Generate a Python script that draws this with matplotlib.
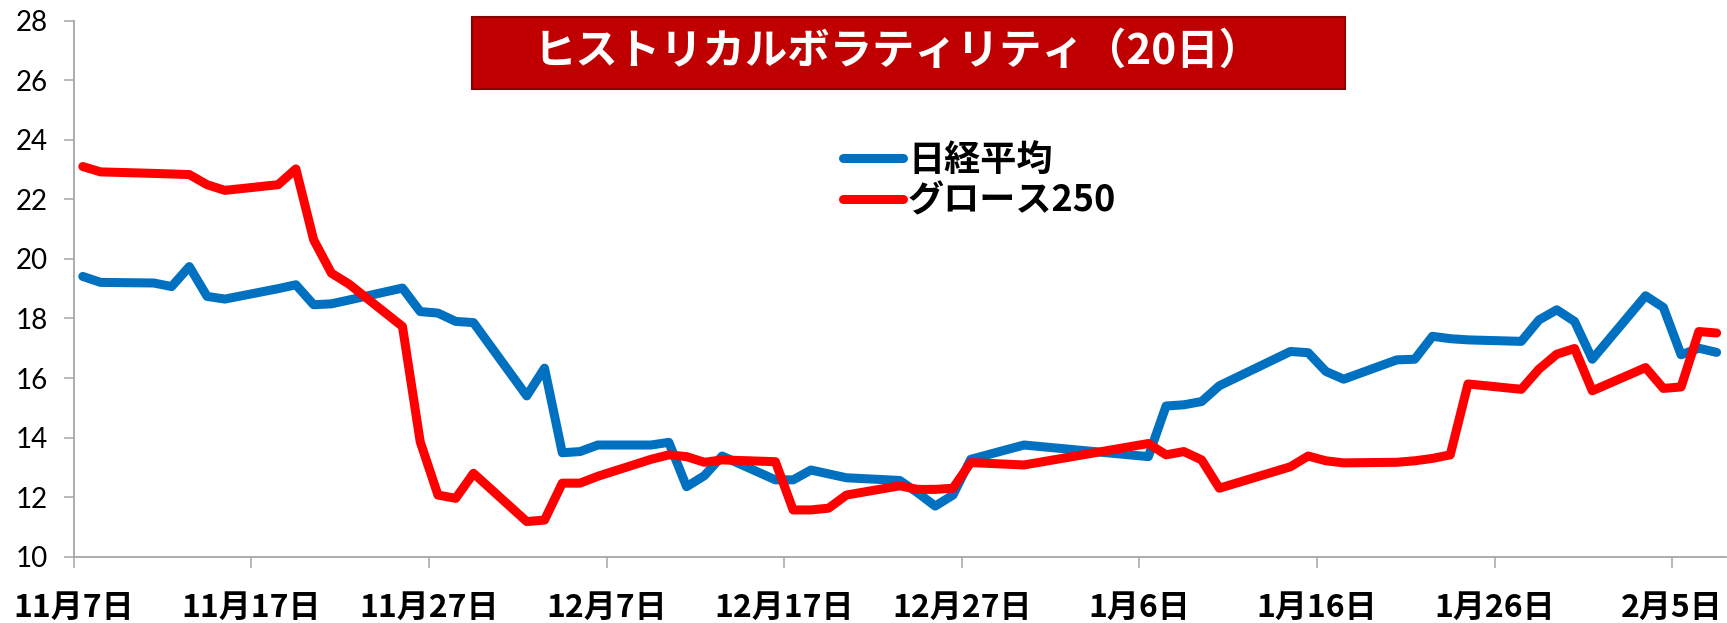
import matplotlib
matplotlib.use("Agg")
import matplotlib.pyplot as plt
import matplotlib.dates as mdates
from matplotlib.patches import Rectangle
import pandas as pd

plt.rcParams['font.family'] = ['Noto Sans CJK JP', 'DejaVu Sans']

# ---- data ----
dates = [
    "2024-11-07", "2024-11-08", "2024-11-11", "2024-11-12", "2024-11-13", "2024-11-14", "2024-11-15",
    "2024-11-18", "2024-11-19", "2024-11-20", "2024-11-21", "2024-11-22",
    "2024-11-25", "2024-11-26", "2024-11-27", "2024-11-28", "2024-11-29",
    "2024-12-02", "2024-12-03", "2024-12-04", "2024-12-05", "2024-12-06",
    "2024-12-09", "2024-12-10", "2024-12-11", "2024-12-12", "2024-12-13",
    "2024-12-16", "2024-12-17", "2024-12-18", "2024-12-19", "2024-12-20",
    "2024-12-23", "2024-12-24", "2024-12-25", "2024-12-26", "2024-12-27",
    "2024-12-30",
    "2025-01-06", "2025-01-07", "2025-01-08", "2025-01-09", "2025-01-10",
    "2025-01-14", "2025-01-15", "2025-01-16", "2025-01-17",
    "2025-01-20", "2025-01-21", "2025-01-22", "2025-01-23", "2025-01-24",
    "2025-01-27", "2025-01-28", "2025-01-29", "2025-01-30", "2025-01-31",
    "2025-02-03", "2025-02-04", "2025-02-05", "2025-02-06", "2025-02-07",
]

nikkei = [
    19.41, 19.21, 19.19, 19.07, 19.74, 18.74, 18.65,
    19.00, 19.13, 18.46, 18.49, 18.62,
    19.02, 18.23, 18.18, 17.90, 17.86,
    15.40, 16.33, 13.49, 13.53, 13.75,
    13.75, 13.84, 12.35, 12.72, 13.38,
    12.58, 12.58, 12.91, 12.78, 12.65,
    12.56, 12.15, 11.70, 12.07, 13.27,
    13.75,
    13.36, 15.06, 15.10, 15.21, 15.74,
    16.89, 16.85, 16.22, 15.96,
    16.61, 16.63, 17.40, 17.32, 17.28,
    17.23, 17.95, 18.29, 17.90, 16.63,
    18.76, 18.37, 16.78, 17.00, 16.86,
]

growth250 = [
    23.10, 22.92, 22.87, 22.85, 22.83, 22.49, 22.30,
    22.49, 23.02, 20.64, 19.52, 19.15,
    17.73, 13.86, 12.07, 11.96, 12.80,
    11.18, 11.23, 12.47, 12.47, 12.70,
    13.27, 13.42, 13.36, 13.17, 13.25,
    13.19, 11.57, 11.57, 11.63, 12.07,
    12.38, 12.26, 12.26, 12.30, 13.16,
    13.08,
    13.80, 13.42, 13.53, 13.25, 12.30,
    13.02, 13.38, 13.22, 13.15,
    13.17, 13.22, 13.30, 13.42, 15.80,
    15.62, 16.30, 16.80, 16.99, 15.57,
    16.35, 15.65, 15.70, 17.56, 17.51,
]

series_names = ["日経平均", "グロース250"]
series_colors = ["#0070C0", "#FF0000"]
title_text = "ヒストリカルボラティリティ（20日）"
x_start, x_end = "2024-11-07", "2025-02-08"
yticks = [10, 12, 14, 16, 18, 20, 22, 24, 26, 28]

# ---- figure ----
W, H = 1727, 623
fig = plt.figure(figsize=(W / 100, H / 100), dpi=100)
ax = fig.add_axes([73.9 / W, (H - 556.7) / H, (1725.5 - 73.9) / W, (556.7 - 20.6) / H])

x = pd.to_datetime(dates) + pd.Timedelta(hours=12)
for vals, name, col in zip([nikkei, growth250], series_names, series_colors):
    ax.plot(x, vals, color=col, lw=6.5, label=name,
            solid_capstyle='round', solid_joinstyle='round')

ax.set_xlim(pd.Timestamp(x_start), pd.Timestamp(x_end))
ax.set_ylim(10, 28)
ax.set_yticks(yticks)

tick_dates = pd.date_range(x_start, periods=10, freq="10D")
ax.set_xticks(tick_dates)
ax.set_xticklabels([f"{d.month}月{d.day}日" for d in tick_dates],
                   fontsize=23, fontweight='bold')

for lab in ax.get_yticklabels():
    lab.set_fontsize(20)
    lab.set_family(['Lato', 'DejaVu Sans'])

spine_col = "#A6A6A6"
for s in ['top', 'right']:
    ax.spines[s].set_visible(False)
for s in ['left', 'bottom']:
    ax.spines[s].set_color(spine_col)
    ax.spines[s].set_linewidth(1.3)
ax.tick_params(axis='y', direction='out', length=7, width=1.1, color=spine_col, pad=12)
ax.tick_params(axis='x', direction='out', length=8, width=1.1, color=spine_col, pad=17)

# title box
fig.patches.append(Rectangle((472 / W, (H - 89) / H), (1345 - 472) / W, 72 / H,
                             transform=fig.transFigure, facecolor="#C00000",
                             edgecolor="#8B0000", lw=1.5, zorder=5))
fig.text(898 / W, (H - 52) / H, title_text, color="white", fontsize=30.5,
         fontweight='bold', ha='center', va='center', zorder=6)

# legend
leg = ax.legend(loc='upper left', bbox_to_anchor=(843 / W, (H - 142) / H),
                bbox_transform=fig.transFigure, frameon=False,
                prop={'size': 26, 'weight': 'bold'},
                handlelength=1.65, handletextpad=0.15, labelspacing=0.1,
                borderpad=0, borderaxespad=0)

fig.savefig("out.png", dpi=100)
